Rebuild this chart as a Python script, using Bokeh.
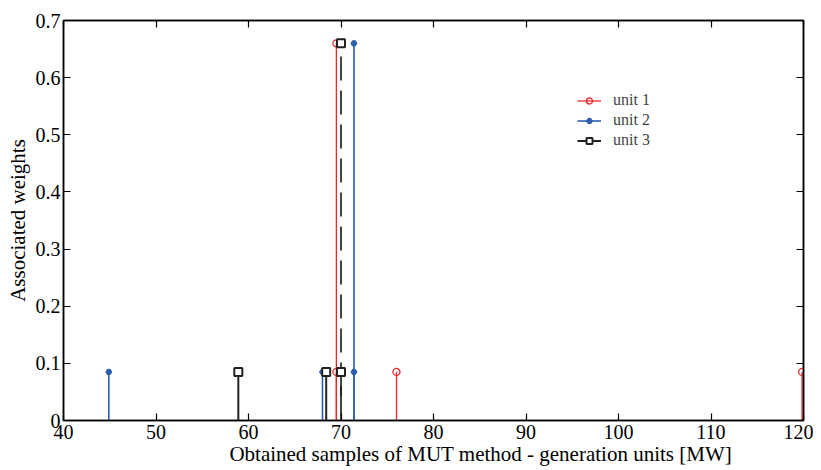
from bokeh.plotting import figure
from bokeh.models import LinearAxis, Legend, LegendItem, FixedTicker, ColumnDataSource, CustomJSTickFormatter
from bokeh.embed import file_html
from bokeh.resources import INLINE

# Data
unit1_x = [69.5, 69.5, 76.0, 119.85]
unit1_w = [0.66, 0.085, 0.085, 0.085]
unit2_x = [44.9, 68.0, 71.4, 71.4]
unit2_w = [0.085, 0.085, 0.66, 0.085]
unit3_x = [58.9, 68.4, 70.0, 70.0]
unit3_w = [0.085, 0.085, 0.66, 0.085]
x_ticks = [40, 50, 60, 70, 80, 90, 100, 110, 120]
y_ticks = [0, 0.1, 0.2, 0.3, 0.4, 0.5, 0.6, 0.7]
series_labels = ["unit 1", "unit 2", "unit 3"]
x_title = "Obtained samples of MUT method - generation units [MW]"
y_title = "Associated weights"

FONT = "Liberation Serif"
RED = "#e8262a"
BLUE = "#2b5fae"
BLACK = "#222222"

p = figure(width=813, height=470, x_range=(40, 120), y_range=(0, 0.7),
           output_backend="svg", toolbar_location=None,
           min_border_left=63, min_border_right=10, min_border_top=20, min_border_bottom=50)
p.grid.visible = False
p.outline_line_color = "black"
p.outline_line_width = 1.5
p.background_fill_color = "white"
p.border_fill_color = "white"

def style_axis(ax):
    ax.major_tick_in = 7
    ax.major_tick_out = 0
    ax.minor_tick_in = 0
    ax.minor_tick_out = 0
    ax.axis_line_color = "black"
    ax.axis_line_width = 1.5
    ax.major_tick_line_color = "black"
    ax.major_tick_line_width = 1.2
    ax.major_label_text_font = FONT
    ax.major_label_text_font_size = "20px"
    ax.major_label_text_color = "black"
    ax.axis_label_text_font = FONT
    ax.axis_label_text_font_size = "21px"
    ax.axis_label_text_font_style = "normal"
    ax.axis_label_text_color = "black"

p.xaxis.ticker = FixedTicker(ticks=x_ticks)
p.yaxis.ticker = FixedTicker(ticks=y_ticks)
# the reference sets the x title right of centre; non-breaking spaces shift it
p.xaxis.axis_label = "\u00a0" * 18 + x_title
p.yaxis.axis_label = y_title
style_axis(p.xaxis[0])
style_axis(p.yaxis[0])
p.xaxis.major_label_standoff = 4
p.xaxis.axis_label_standoff = 0
p.yaxis.major_label_standoff = 3
p.yaxis.axis_label_standoff = 3
p.yaxis.major_label_overrides = {0: "0"}

empty = CustomJSTickFormatter(code="return '';")
top = LinearAxis(ticker=FixedTicker(ticks=x_ticks), formatter=empty)
right = LinearAxis(ticker=FixedTicker(ticks=y_ticks), formatter=empty)
style_axis(top)
style_axis(right)
top.major_label_standoff = 0
right.major_label_standoff = 0
p.add_layout(top, "above")
p.add_layout(right, "right")

# unit 1
s1 = ColumnDataSource(dict(x=unit1_x, w=unit1_w, z=[0]*len(unit1_x)))
r1s = p.segment(x0="x", y0="z", x1="x", y1="w", source=s1, line_color=RED, line_width=1.3)
r1m = p.scatter(x="x", y="w", source=s1, marker="circle", size=7, fill_color="white",
                fill_alpha=0, line_color=RED, line_width=1.3)

# unit 2
s2 = ColumnDataSource(dict(x=unit2_x, w=unit2_w, z=[0]*len(unit2_x)))
r2s = p.segment(x0="x", y0="z", x1="x", y1="w", source=s2, line_color=BLUE, line_width=1.6)
r2m = p.scatter(x="x", y="w", source=s2, marker="hex", size=6, fill_color=BLUE,
                line_color=BLUE, line_width=1)

# unit 3: the tall stem dashed
solid_x = [x for x, w in zip(unit3_x, unit3_w) if w < 0.5]
solid_w = [w for w in unit3_w if w < 0.5]
dash_x = [x for x, w in zip(unit3_x, unit3_w) if w >= 0.5]
dash_w = [w for w in unit3_w if w >= 0.5]
s3a = ColumnDataSource(dict(x=solid_x, w=solid_w, z=[0]*len(solid_x)))
s3b = ColumnDataSource(dict(x=dash_x, w=dash_w, z=[0]*len(dash_x)))
r3s = p.segment(x0="x", y0="z", x1="x", y1="w", source=s3a, line_color=BLACK, line_width=2)
r3d = p.segment(x0="x", y0="z", x1="x", y1="w", source=s3b, line_color="#444444", line_width=2,
                line_dash="24 10")
s3 = ColumnDataSource(dict(x=unit3_x, w=unit3_w))
r3m = p.scatter(x="x", y="w", source=s3, marker="square", size=8, fill_color="white",
                line_color=BLACK, line_width=2)

# one legend box per entry so the rows sit close together as in the reference
legend_renderers = [[r1s, r1m], [r2s, r2m], [r3s, r3m]]
legend_y = [311, 291, 271]
for lab, rends, ly in zip(series_labels, legend_renderers, legend_y):
    lg = Legend(items=[LegendItem(label=lab, renderers=rends)], location=(514, ly))
    lg.label_text_font = FONT
    lg.label_text_font_size = "16px"
    lg.label_height = 15
    lg.glyph_height = 15
    lg.glyph_width = 24
    lg.spacing = 0
    lg.padding = 0
    lg.margin = 0
    lg.border_line_alpha = 0
    lg.background_fill_alpha = 0
    lg.label_standoff = 12
    p.add_layout(lg, "center")

open("out.html", "w").write(file_html(p, INLINE))
